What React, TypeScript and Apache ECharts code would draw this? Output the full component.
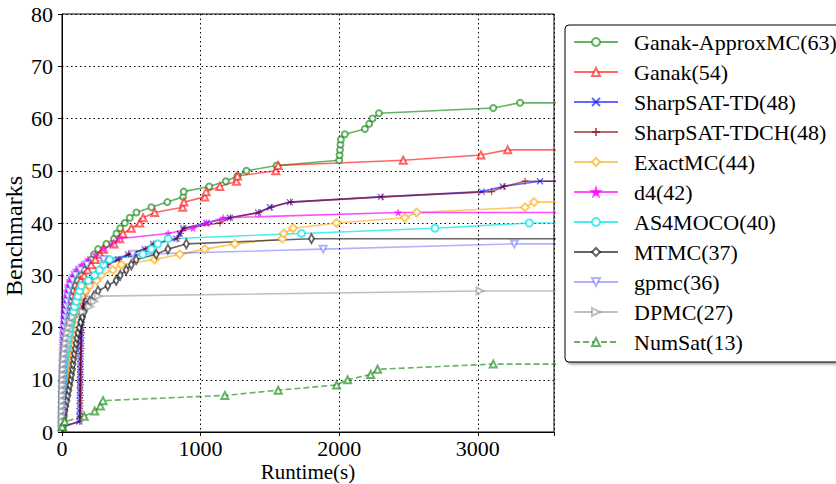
import React, { useEffect, useRef } from "react";
import * as echarts from "echarts";

const TIMEOUT = 3600;
const X_MAX = 3550;
const Y_TICKS = [0, 10, 20, 30, 40, 50, 60, 70, 80];
const X_TICKS = [0, 1000, 2000, 3000];

const seriesNames = [
  "Ganak-ApproxMC(63)",
  "Ganak(54)",
  "SharpSAT-TD(48)",
  "SharpSAT-TDCH(48)",
  "ExactMC(44)",
  "d4(42)",
  "AS4MOCO(40)",
  "MTMC(37)",
  "gpmc(36)",
  "DPMC(27)",
  "NumSat(13)",
];

// sorted runtimes (s); the i-th entry is the time at which i+1 benchmarks are solved
const ganakApproxMC = [2, 4, 6, 8, 10, 12, 14, 16, 18, 20, 22, 24, 26, 28, 30, 32, 35, 38, 41, 44, 48, 52, 57, 62, 68, 75, 85, 100, 115, 140, 160, 185, 212, 231, 260, 320, 376, 393, 420, 453, 489, 537, 645, 760, 874, 878, 1062, 1182, 1266, 1331, 1548, 2000, 2003, 2006, 2009, 2012, 2041, 2186, 2217, 2241, 2287, 3112, 3305];
const ganak = [3, 5, 7, 9, 11, 13, 15, 17, 19, 21, 24, 27, 30, 33, 36, 40, 44, 48, 52, 57, 62, 68, 74, 80, 88, 96, 105, 118, 135, 160, 185, 210, 240, 275, 300, 375, 416, 440, 500, 561, 585, 669, 871, 880, 1030, 1040, 1139, 1259, 1266, 1543, 1560, 2462, 3023, 3216];
const sharpSatTD = [2, 125, 126, 127, 128, 128, 129, 129, 130, 130, 131, 131, 132, 132, 133, 134, 135, 136, 137, 138, 140, 142, 144, 147, 152, 160, 172, 188, 205, 230, 260, 320, 405, 477, 597, 657, 826, 850, 874, 1043, 1211, 1415, 1500, 1644, 2301, 3028, 3180, 3449];
const sharpSatTDCH = [3, 128, 129, 130, 131, 131, 132, 132, 133, 133, 134, 134, 135, 135, 136, 137, 138, 139, 140, 141, 143, 145, 148, 151, 156, 165, 178, 193, 210, 235, 265, 330, 410, 480, 600, 660, 830, 855, 880, 1139, 1215, 1420, 1510, 1650, 2310, 3100, 3190, 3341];
const exactMC = [3, 5, 7, 9, 11, 13, 15, 18, 21, 24, 27, 30, 34, 38, 42, 46, 51, 56, 62, 68, 75, 83, 92, 105, 120, 140, 170, 199, 250, 283, 367, 429, 669, 850, 1030, 1247, 1590, 1600, 1668, 1981, 2474, 2559, 3341, 3406];
const d4 = [0.2, 0.3, 0.4, 0.5, 0.6, 0.7, 0.8, 0.9, 1, 1.2, 1.4, 1.6, 1.8, 2, 2.5, 3, 3.5, 4, 5, 6, 8, 11, 14, 18, 22, 27, 33, 41, 52, 75, 100, 140, 187, 240, 300, 360, 405, 766, 946, 1043, 1163, 2426];
const as4moco = [1, 1.5, 2, 2.5, 3, 4, 5, 6, 8, 10, 12, 15, 18, 22, 27, 32, 38, 45, 52, 58, 64, 72, 82, 91, 103, 115, 127, 139, 190, 235, 270, 300, 343, 583, 644, 691, 766, 1728, 2691, 3372];
const mtmc = [5, 10, 15, 20, 28, 36, 43, 50, 57, 64, 70, 76, 80, 85, 90, 96, 102, 108, 115, 125, 135, 148, 160, 175, 200, 230, 260, 330, 391, 420, 463, 500, 535, 680, 764, 897, 1800];
const gpmc = [0.5, 0.7, 1, 1.2, 1.5, 1.8, 2, 2.5, 3, 3.5, 4, 5, 6, 7, 8, 9, 10, 12, 14, 16, 19, 22, 26, 30, 35, 42, 50, 60, 75, 95, 130, 180, 300, 510, 1885, 3264];
const dpmc = [1, 1.5, 2, 2.5, 3, 3.5, 4, 5, 6, 7, 8, 10, 12, 15, 18, 22, 27, 33, 40, 50, 62, 80, 150, 200, 230, 260, 3016];
const numSat = [2, 20, 160, 236, 277, 296, 1175, 1560, 1981, 2061, 2227, 2277, 3112];

const runtimes = [ganakApproxMC, ganak, sharpSatTD, sharpSatTDCH, exactMC, d4, as4moco, mtmc, gpmc, dpmc, numSat];

const colors = [
  "rgba(0,128,0,0.6)",
  "rgba(255,0,0,0.6)",
  "rgba(0,0,255,0.6)",
  "rgba(139,0,0,0.6)",
  "rgba(255,165,0,0.6)",
  "rgba(255,0,255,0.7)",
  "rgba(0,230,230,0.7)",
  "rgba(0,0,0,0.6)",
  "rgba(0,0,255,0.3)",
  "rgba(128,128,128,0.5)",
  "rgba(0,128,0,0.6)",
];

const STAR = "path://M5,0L6.2,3.6L10,3.6L7,5.9L8.1,9.5L5,7.3L1.9,9.5L3,5.9L0,3.6L3.8,3.6Z";
const XMARK = "path://M0,0L10,10M10,0L0,10";
const PLUS = "path://M5,0L5,10M0,5L10,5";

const symbols: any[] = [
  { symbol: "emptyCircle", size: 6, rotate: 0 },
  { symbol: "emptyTriangle", size: 7, rotate: 0 },
  { symbol: XMARK, size: 6, rotate: 0, stroke: true },
  { symbol: PLUS, size: 7, rotate: 0, stroke: true },
  { symbol: "emptyDiamond", size: 8, rotate: 0 },
  { symbol: STAR, size: 7, rotate: 0, fill: true },
  { symbol: "emptyCircle", size: 7, rotate: 0 },
  { symbol: "emptyDiamond", size: [5, 9], rotate: 0 },
  { symbol: "emptyTriangle", size: 7, rotate: 180 },
  { symbol: "emptyTriangle", size: 7, rotate: -90 },
  { symbol: "emptyTriangle", size: 7, rotate: 0 },
];

const FONT = "Liberation Serif";
const FS = 22;

export default function App() {
  const ref = useRef<HTMLDivElement>(null);
  useEffect(() => {
    if (!ref.current) return;
    const chart = echarts.init(ref.current, null, { renderer: "svg" });
    const series = seriesNames.map((name, k) => {
      const rt = runtimes[k];
      const sym = symbols[k];
      const data: any[] = rt.map((t, i) => [t, i + 1]);
      data.push({ value: [TIMEOUT, rt.length], symbol: "none" });
      const itemStyle: any = sym.stroke
        ? { color: colors[k], borderColor: colors[k], borderWidth: 1.3 }
        : sym.fill
        ? { color: colors[k], borderColor: colors[k], borderWidth: 0.5 }
        : { color: colors[k], borderWidth: 1.2 };
      return {
        name,
        type: "line",
        data,
        symbol: sym.symbol,
        symbolSize: sym.size,
        symbolRotate: sym.rotate,
        showAllSymbol: true,
        clip: true,
        lineStyle: { color: colors[k], width: 1.6, type: k === 10 ? [6, 3] : "solid" },
        itemStyle,
        emphasis: { disabled: true },
      };
    });
    chart.setOption({
      animation: false,
      backgroundColor: "#fff",
      textStyle: { fontFamily: FONT },
      grid: {
        left: 62,
        right: 282,
        top: 14,
        bottom: 52,
        containLabel: false,
        outerBoundsMode: "none",
        show: true,
        borderColor: "#000",
        borderWidth: 1,
        backgroundColor: "transparent",
      },
      xAxis: {
        type: "value",
        min: 0,
        max: X_MAX,
        interval: 1000,
        name: "Runtime(s)",
        nameLocation: "middle",
        nameGap: 29,
        nameMoveOverlap: false,
        nameTextStyle: { fontFamily: FONT, fontSize: 21, color: "#000", lineHeight: 21 },
        axisLine: { show: true, lineStyle: { color: "#000", width: 1 } },
        axisTick: { show: true, length: 4, lineStyle: { color: "#000" } },
        axisLabel: {
          fontFamily: FONT,
          fontSize: FS,
          color: "#000",
          margin: 5,
          formatter: (v: number) => (X_TICKS.includes(v) ? String(v) : ""),
        },
        splitLine: { show: true, lineStyle: { color: "#000", type: [1.5, 3], width: 1 } },
      },
      yAxis: {
        type: "value",
        min: 0,
        max: 80,
        interval: 10,
        name: "Benchmarks",
        nameLocation: "middle",
        nameGap: 36,
        nameMoveOverlap: false,
        nameTextStyle: { fontFamily: FONT, fontSize: 24, color: "#000", lineHeight: 24, padding: [0, 26, 0, 0] },
        axisLine: { show: true, lineStyle: { color: "#000", width: 1 } },
        axisTick: { show: true, length: 4, lineStyle: { color: "#000" } },
        axisLabel: {
          fontFamily: FONT,
          fontSize: FS,
          color: "#000",
          margin: 9,
          formatter: (v: number) => (Y_TICKS.includes(v) ? String(v) : ""),
        },
        splitLine: { show: true, lineStyle: { color: "#000", type: [1.5, 3], width: 1 } },
      },
      legend: {
        orient: "vertical",
        left: 565,
        top: 25,
        padding: [6, 6, 9, 8],
        itemWidth: 44,
        itemHeight: 10,
        itemGap: 8,
        backgroundColor: "#fff",
        borderColor: "#000",
        borderWidth: 1,
        borderRadius: 4,
        shadowColor: "rgba(0,0,0,0.35)",
        shadowBlur: 2,
        shadowOffsetX: 2,
        shadowOffsetY: 2,
        textStyle: { fontFamily: FONT, fontSize: FS, color: "#000", lineHeight: 21, padding: [0, 0, 0, 11] },
        data: seriesNames,
      },
      series,
    });
    return () => chart.dispose();
  }, []);
  return <div ref={ref} style={{ position: "fixed", left: 0, top: 0, width: 836, height: 484 }} />;
}
